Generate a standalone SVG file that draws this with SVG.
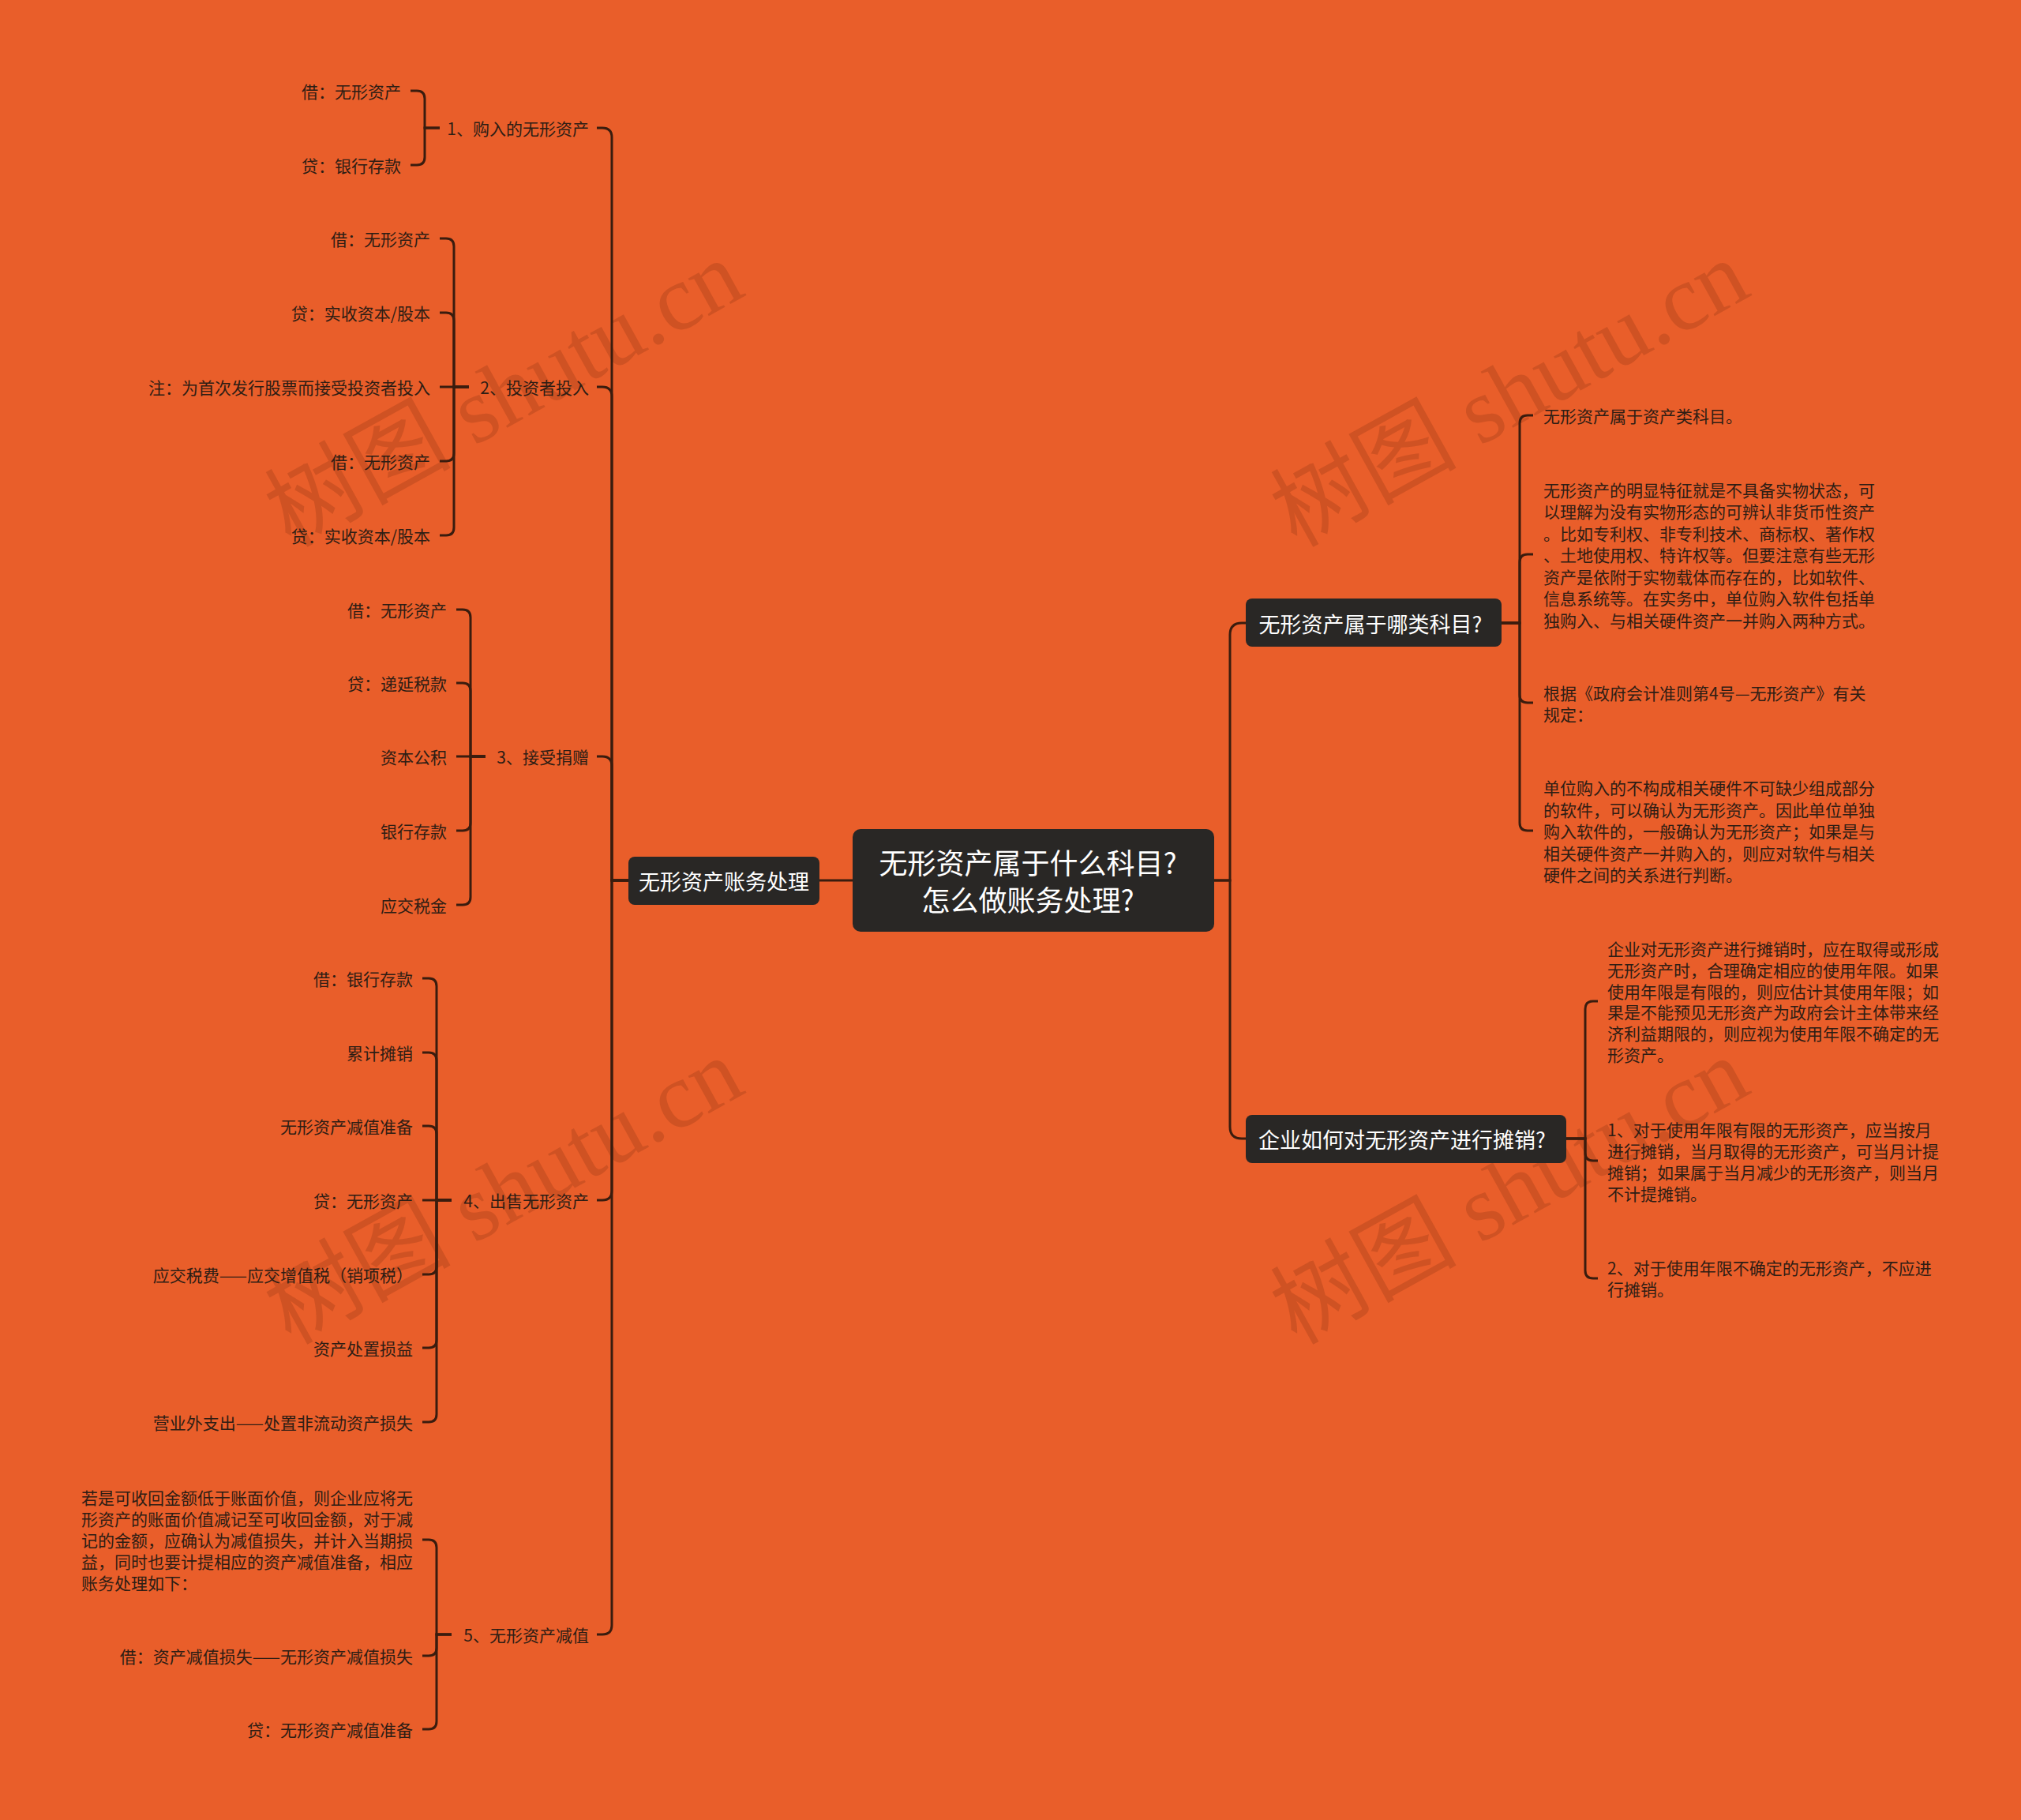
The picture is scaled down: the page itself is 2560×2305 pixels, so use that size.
<svg xmlns="http://www.w3.org/2000/svg" width="2560" height="2305" viewBox="0 0 2560 2305">
<style>
.bg{fill:#E95E2A}
.node{fill:#292725}
.ntext{fill:#FFFFFF;font-family:"Noto Sans CJK SC","Noto Sans",sans-serif;font-size:27px;dominant-baseline:central;text-anchor:middle}
.ctext{fill:#FFFFFF;font-family:"Noto Sans CJK SC","Noto Sans",sans-serif;font-size:36px;dominant-baseline:central;text-anchor:middle}
.leaf{fill:#2E1D14;font-family:"Noto Sans CJK SC","Noto Sans",sans-serif;font-size:21px;dominant-baseline:central}
.r{text-anchor:end}
.l{text-anchor:start}
.conn path{fill:none;stroke:#3A1C0E;stroke-width:3;stroke-linecap:butt}
.wm{fill:#5A1E08;fill-opacity:0.18;font-family:"Liberation Serif","Noto Sans CJK SC",serif;font-size:118px}
</style>
<rect class="bg" x="0" y="0" width="2560" height="2305"/>

<g id="watermarks">
<text class="wm" transform="translate(368,694) rotate(-29)">树图 shutu.cn</text>
<text class="wm" transform="translate(1642,694) rotate(-29)">树图 shutu.cn</text>
<text class="wm" transform="translate(368,1704) rotate(-29)">树图 shutu.cn</text>
<text class="wm" transform="translate(1642,1704) rotate(-29)">树图 shutu.cn</text>
</g>

<g id="connectors" class="conn">
<path d="M1038 1115 H1080"/>
<path d="M796 1115 H775 V174 Q775 162 763 162 H756"/>
<path d="M796 1115 H775 V502 Q775 490 763 490 H756"/>
<path d="M796 1115 H775 V970 Q775 958 763 958 H756"/>
<path d="M796 1115 H775 V1508 Q775 1520 763 1520 H756"/>
<path d="M796 1115 H775 V2058 Q775 2070 763 2070 H756"/>
<path d="M557 162 H538 V125 Q538 115 528 115 H520"/>
<path d="M557 162 H538 V199 Q538 209 528 209 H520"/>
<path d="M594 490 H575 V312 Q575 302 565 302 H557"/>
<path d="M594 490 H575 V406 Q575 396 565 396 H557"/>
<path d="M594 490 H557"/>
<path d="M594 490 H575 V574 Q575 584 565 584 H557"/>
<path d="M594 490 H575 V668 Q575 678 565 678 H557"/>
<path d="M615 958 H596 V782 Q596 772 586 772 H578"/>
<path d="M615 958 H596 V875 Q596 865 586 865 H578"/>
<path d="M615 958 H578"/>
<path d="M615 958 H596 V1042 Q596 1052 586 1052 H578"/>
<path d="M615 958 H596 V1136 Q596 1146 586 1146 H578"/>
<path d="M572 1520 H553 V1249 Q553 1239 543 1239 H535"/>
<path d="M572 1520 H553 V1343 Q553 1333 543 1333 H535"/>
<path d="M572 1520 H553 V1436 Q553 1426 543 1426 H535"/>
<path d="M572 1520 H535"/>
<path d="M572 1520 H553 V1604 Q553 1614 543 1614 H535"/>
<path d="M572 1520 H553 V1697 Q553 1707 543 1707 H535"/>
<path d="M572 1520 H553 V1791 Q553 1801 543 1801 H535"/>
<path d="M572 2070 H553 V1960 Q553 1950 543 1950 H535"/>
<path d="M572 2070 H553 V2087 Q553 2097 543 2097 H535"/>
<path d="M572 2070 H553 V2180 Q553 2190 543 2190 H535"/>
<path d="M1538 1115 H1558 V804 Q1558 789 1573 789 H1578"/>
<path d="M1538 1115 H1558 V1427 Q1558 1442 1573 1442 H1578"/>
<path d="M1902 789 H1925 V536 Q1925 526 1935 526 H1942"/>
<path d="M1902 789 H1925 V712 Q1925 702 1935 702 H1942"/>
<path d="M1902 789 H1925 V880 Q1925 890 1935 890 H1942"/>
<path d="M1902 789 H1925 V1042 Q1925 1052 1935 1052 H1942"/>
<path d="M1984 1442 H2008 V1278 Q2008 1268 2018 1268 H2024"/>
<path d="M1984 1442 H2008 V1460 Q2008 1470 2018 1470 H2024"/>
<path d="M1984 1442 H2008 V1609 Q2008 1619 2018 1619 H2024"/>
</g>

<g id="root">
<rect class="node" x="1080" y="1050" width="458" height="130" rx="10"/>
<text class="ctext" x="1302" y="1091">无形资产属于什么科目?</text>
<text class="ctext" x="1302" y="1138">怎么做账务处理?</text>
</g>

<g id="n-left">
<rect class="node" x="796" y="1085" width="242" height="61" rx="8"/>
<text class="ntext" x="917" y="1115">无形资产账务处理</text>
</g>

<g id="n-l1"><text class="leaf r" x="746" y="162">1、购入的无形资产</text></g>
<g id="n-l1a"><text class="leaf r" x="508" y="115">借：无形资产</text></g>
<g id="n-l1b"><text class="leaf r" x="508" y="209">贷：银行存款</text></g>

<g id="n-l2"><text class="leaf r" x="746" y="490">2、投资者投入</text></g>
<g id="n-l2a"><text class="leaf r" x="545" y="302">借：无形资产</text></g>
<g id="n-l2b"><text class="leaf r" x="545" y="396">贷：实收资本/股本</text></g>
<g id="n-l2c"><text class="leaf r" x="545" y="490">注：为首次发行股票而接受投资者投入</text></g>
<g id="n-l2d"><text class="leaf r" x="545" y="584">借：无形资产</text></g>
<g id="n-l2e"><text class="leaf r" x="545" y="678">贷：实收资本/股本</text></g>

<g id="n-l3"><text class="leaf r" x="746" y="958">3、接受捐赠</text></g>
<g id="n-l3a"><text class="leaf r" x="566" y="772">借：无形资产</text></g>
<g id="n-l3b"><text class="leaf r" x="566" y="865">贷：递延税款</text></g>
<g id="n-l3c"><text class="leaf r" x="566" y="958">资本公积</text></g>
<g id="n-l3d"><text class="leaf r" x="566" y="1052">银行存款</text></g>
<g id="n-l3e"><text class="leaf r" x="566" y="1146">应交税金</text></g>

<g id="n-l4"><text class="leaf r" x="746" y="1520">4、出售无形资产</text></g>
<g id="n-l4a"><text class="leaf r" x="523" y="1239">借：银行存款</text></g>
<g id="n-l4b"><text class="leaf r" x="523" y="1333">累计摊销</text></g>
<g id="n-l4c"><text class="leaf r" x="523" y="1426">无形资产减值准备</text></g>
<g id="n-l4d"><text class="leaf r" x="523" y="1520">贷：无形资产</text></g>
<g id="n-l4e"><text class="leaf r" x="523" y="1614">应交税费——应交增值税（销项税）</text></g>
<g id="n-l4f"><text class="leaf r" x="523" y="1707">资产处置损益</text></g>
<g id="n-l4g"><text class="leaf r" x="523" y="1801">营业外支出——处置非流动资产损失</text></g>

<g id="n-l5"><text class="leaf r" x="746" y="2070">5、无形资产减值</text></g>
<g id="n-l5a"><text class="leaf l">
<tspan x="103" y="1896">若是可收回金额低于账面价值，则企业应将无</tspan>
<tspan x="103" y="1923">形资产的账面价值减记至可收回金额，对于减</tspan>
<tspan x="103" y="1950">记的金额，应确认为减值损失，并计入当期损</tspan>
<tspan x="103" y="1977">益，同时也要计提相应的资产减值准备，相应</tspan>
<tspan x="103" y="2004">账务处理如下：</tspan>
</text></g>
<g id="n-l5b"><text class="leaf r" x="523" y="2097">借：资产减值损失——无形资产减值损失</text></g>
<g id="n-l5c"><text class="leaf r" x="523" y="2190">贷：无形资产减值准备</text></g>

<g id="n-right1">
<rect class="node" x="1578" y="758" width="324" height="61" rx="8"/>
<text class="ntext" x="1736" y="789">无形资产属于哪类科目?</text>
</g>
<g id="n-r1a"><text class="leaf l" x="1955" y="526">无形资产属于资产类科目。</text></g>
<g id="n-r1b"><text class="leaf l">
<tspan x="1955" y="619.5">无形资产的明显特征就是不具备实物状态，可</tspan>
<tspan x="1955" y="647">以理解为没有实物形态的可辨认非货币性资产</tspan>
<tspan x="1955" y="674.5">。比如专利权、非专利技术、商标权、著作权</tspan>
<tspan x="1955" y="702">、土地使用权、特许权等。但要注意有些无形</tspan>
<tspan x="1955" y="729.5">资产是依附于实物载体而存在的，比如软件、</tspan>
<tspan x="1955" y="757">信息系统等。在实务中，单位购入软件包括单</tspan>
<tspan x="1955" y="784.5">独购入、与相关硬件资产一并购入两种方式。</tspan>
</text></g>
<g id="n-r1c"><text class="leaf l">
<tspan x="1955" y="877">根据《政府会计准则第4号—无形资产》有关</tspan>
<tspan x="1955" y="904">规定：</tspan>
</text></g>
<g id="n-r1d"><text class="leaf l">
<tspan x="1955" y="997">单位购入的不构成相关硬件不可缺少组成部分</tspan>
<tspan x="1955" y="1024.5">的软件，可以确认为无形资产。因此单位单独</tspan>
<tspan x="1955" y="1052">购入软件的，一般确认为无形资产；如果是与</tspan>
<tspan x="1955" y="1079.5">相关硬件资产一并购入的，则应对软件与相关</tspan>
<tspan x="1955" y="1107">硬件之间的关系进行判断。</tspan>
</text></g>

<g id="n-right2">
<rect class="node" x="1578" y="1412" width="406" height="61" rx="8"/>
<text class="ntext" x="1776" y="1442">企业如何对无形资产进行摊销?</text>
</g>
<g id="n-r2a"><text class="leaf l">
<tspan x="2036" y="1201">企业对无形资产进行摊销时，应在取得或形成</tspan>
<tspan x="2036" y="1228">无形资产时，合理确定相应的使用年限。如果</tspan>
<tspan x="2036" y="1255">使用年限是有限的，则应估计其使用年限；如</tspan>
<tspan x="2036" y="1281">果是不能预见无形资产为政府会计主体带来经</tspan>
<tspan x="2036" y="1308">济利益期限的，则应视为使用年限不确定的无</tspan>
<tspan x="2036" y="1335">形资产。</tspan>
</text></g>
<g id="n-r2b"><text class="leaf l">
<tspan x="2036" y="1430">1、对于使用年限有限的无形资产，应当按月</tspan>
<tspan x="2036" y="1457">进行摊销，当月取得的无形资产，可当月计提</tspan>
<tspan x="2036" y="1484">摊销；如果属于当月减少的无形资产，则当月</tspan>
<tspan x="2036" y="1511">不计提摊销。</tspan>
</text></g>
<g id="n-r2c"><text class="leaf l">
<tspan x="2036" y="1605">2、对于使用年限不确定的无形资产，不应进</tspan>
<tspan x="2036" y="1632">行摊销。</tspan>
</text></g>
</svg>
